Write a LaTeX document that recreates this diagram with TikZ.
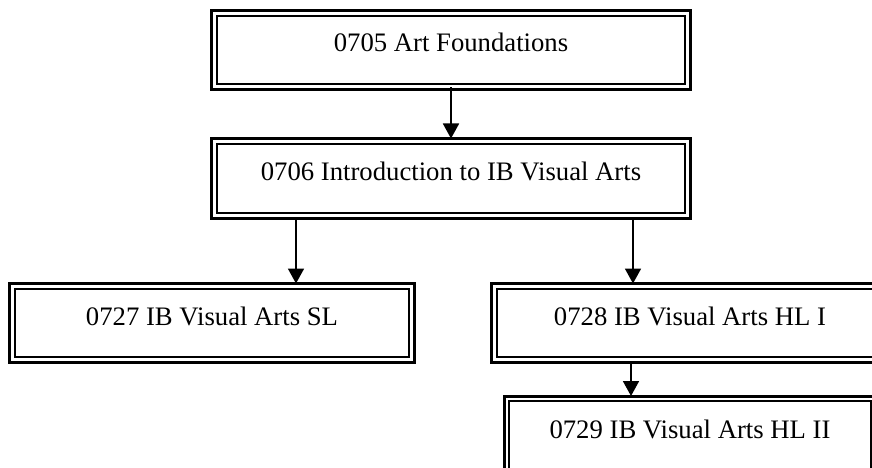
\documentclass[tikz,border=0pt]{standalone}
\usepackage{fontspec}
\setmainfont{Liberation Serif}
\usetikzlibrary{arrows.meta}
\tikzset{
  box/.style={draw, line width=3pt, outer sep=0pt, inner sep=0pt,
    font=\fontsize{26.7}{30}\selectfont, text height=14pt, text depth=10pt},
  innerline/.style={line width=2pt},
  arr/.style={line width=1.8pt, -{Triangle[length=15pt,width=16pt]}}
}
\begin{document}
\begin{tikzpicture}[x=1pt,y=-1pt]
\useasboundingbox (0,0) rectangle (872,468);
\node[box, minimum width=479pt, minimum height=79pt] (b1) at (451,50) {0705 Art Foundations};
\node[box, minimum width=479pt, minimum height=80pt] (b2) at (451,178.5) {0706 Introduction to IB Visual Arts};
\node[box, minimum width=405pt, minimum height=79pt] (b3) at (212,323) {0727 IB Visual Arts SL};
\node[box, minimum width=397pt, minimum height=79pt] (b4) at (690,323) {0728 IB Visual Arts HL I};
\node[box, minimum width=372pt, minimum height=80pt] (b5) at (690,436) {0729 IB Visual Arts HL II};
\foreach \n in {b1,b2,b3,b4,b5}
  \draw[innerline] ([shift={(5.3,5.3)}]\n.north west) rectangle ([shift={(-5.3,-5.3)}]\n.south east);
\draw[arr] ([yshift=2pt]b1.south) -- (b2.north);
\draw[arr] (b2.south -| 296,0) -- (b3.north -| 296,0);
\draw[arr] (b2.south -| 633,0) -- (b4.north -| 633,0);
\draw[arr] (b4.south -| 631,0) -- (b5.north -| 631,0);
\end{tikzpicture}
\end{document}
